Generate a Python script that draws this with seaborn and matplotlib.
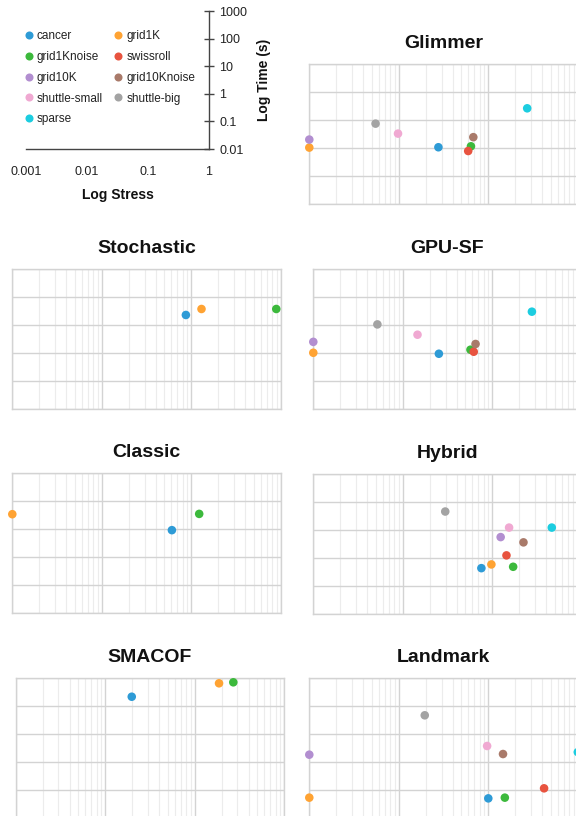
import numpy as np
import pandas as pd
import matplotlib
matplotlib.use("Agg")
import matplotlib.pyplot as plt
import seaborn as sns
from matplotlib.lines import Line2D
from matplotlib.ticker import LogLocator, NullLocator

nan = np.nan

datasets = ["cancer", "grid1K", "grid1Knoise", "swissroll", "grid10K",
            "grid10Knoise", "shuttle-small", "shuttle-big", "sparse"]
colors = ["#2e9bd6", "#ffa333", "#3cb93c", "#e8533f", "#b28ed0",
          "#a97a6a", "#f0a9d2", "#a3a3a3", "#1ccde0"]

methods = ["Glimmer", "Stochastic", "GPU-SF", "Classic", "Hybrid", "SMACOF", "Landmark"]

glimmer_stress = [0.0277, 0.001, 0.064, 0.0596, 0.001, 0.068, 0.0098, 0.0055, 0.272]
glimmer_time = [1.09, 1.06, 1.18, 0.80, 2.05, 2.5, 3.35, 7.6, 26.8]

stochastic_stress = [0.087, 0.130, 0.89, nan, nan, nan, nan, nan, nan]
stochastic_time = [22.8, 37.3, 37.3, nan, nan, nan, nan, nan, nan]

gpusf_stress = [0.0253, 0.001, 0.057, 0.062, 0.001, 0.065, 0.0146, 0.0052, 0.277]
gpusf_time = [0.94, 1.02, 1.31, 1.11, 2.5, 2.1, 4.5, 10.5, 29.9]

classic_stress = [0.0607, 0.001, 0.1225, nan, nan, nan, nan, nan, nan]
classic_time = [9.4, 34.9, 35.8, nan, nan, nan, nan, nan, nan]

hybrid_stress = [0.0755, 0.0977, 0.171, 0.144, 0.124, 0.223, 0.154, 0.0298, 0.462]
hybrid_time = [0.42, 0.57, 0.47, 1.2, 5.4, 3.5, 11.8, 44.2, 11.8]

smacof_stress = [0.0198, 0.187, 0.27, nan, nan, nan, nan, nan, nan]
smacof_time = [209, 631, 685, nan, nan, nan, nan, nan, nan]

landmark_stress = [0.1, 0.001, 0.153, 0.42, 0.001, 0.146, 0.097, 0.0195, 1.0]
landmark_time = [0.049, 0.052, 0.052, 0.112, 1.78, 1.88, 3.64, 45.4, 2.2]

x_ticks = [0.001, 0.01, 0.1, 1]
x_tick_labels = ["0.001", "0.01", "0.1", "1"]
y_ticks = [0.01, 0.1, 1, 10, 100, 1000]
y_tick_labels = ["0.01", "0.1", "1", "10", "100", "1000"]

sns.set_theme(style="white")
plt.rcParams['font.family'] = ['Liberation Sans', 'DejaVu Sans']

W, H = 576, 816
fig = plt.figure(figsize=(W / 100, H / 100), dpi=100)


def px_axes(left, top, width, height):
    return fig.add_axes([left / W, 1 - (top + height) / H, width / W, height / H])


palette = dict(zip(datasets, colors))
series = [
    (glimmer_stress, glimmer_time),
    (stochastic_stress, stochastic_time),
    (gpusf_stress, gpusf_time),
    (classic_stress, classic_time),
    (hybrid_stress, hybrid_time),
    (smacof_stress, smacof_time),
    (landmark_stress, landmark_time),
]
layout = [(309.3, 64.3), (12.3, 269), (313.3, 269), (12.3, 473.4),
          (313.3, 473.6), (15.7, 677.7), (309.3, 677.7)]
PW, PH = 268.5, 140

for name, (st, tm), (left, top) in zip(methods, series, layout):
    ax = px_axes(left, top, PW, PH)
    df = pd.DataFrame({"dataset": datasets, "stress": st, "time": tm}).dropna()
    sns.scatterplot(data=df, x="stress", y="time", hue="dataset", palette=palette,
                    hue_order=datasets, s=38, linewidth=0, legend=False, ax=ax,
                    clip_on=False, zorder=3)
    ax.set_xscale('log')
    ax.set_yscale('log')
    ax.set_xlim(1e-3, 1)
    ax.set_ylim(1e-2, 1e3)
    ax.xaxis.set_major_locator(LogLocator(base=10, numticks=10))
    ax.xaxis.set_minor_locator(LogLocator(base=10, subs=np.arange(2, 10), numticks=10))
    ax.yaxis.set_major_locator(LogLocator(base=10, numticks=10))
    ax.yaxis.set_minor_locator(NullLocator())
    ax.set_axisbelow(True)
    ax.grid(which='major', color='#d3d3d3', lw=1.0)
    ax.grid(which='minor', axis='x', color='#ececec', lw=0.8)
    ax.tick_params(which='both', length=0, labelbottom=False, labelleft=False)
    ax.set_xlabel('')
    ax.set_ylabel('')
    for sp in ax.spines.values():
        sp.set_visible(True)
        sp.set_color('#d3d3d3')
        sp.set_linewidth(1.0)
    ax.set_title(name, fontsize=14, fontweight='bold', pad=11.5, color='#111111')

# key axes
kax = px_axes(26, 11, 183, 138)
kax.set_xscale('log')
kax.set_yscale('log')
kax.set_xlim(1e-3, 1)
kax.set_ylim(1e-2, 1e3)
kax.set_facecolor('none')
for s in ['top', 'left']:
    kax.spines[s].set_visible(False)
for s in ['bottom', 'right']:
    kax.spines[s].set_color('#444444')
    kax.spines[s].set_linewidth(1.0)
kax.yaxis.tick_right()
kax.yaxis.set_label_position('right')
kax.set_xticks(x_ticks)
kax.set_xticklabels(x_tick_labels)
kax.set_yticks(y_ticks)
kax.set_yticklabels(y_tick_labels)
kax.minorticks_off()
kax.tick_params(direction='inout', length=6.5, width=1.0, color='#444444',
                labelsize=9, labelcolor='#222222')
kax.tick_params(axis='x', pad=9)
kax.tick_params(axis='y', pad=4)
kax.set_xlabel('Log Stress', fontsize=10, fontweight='bold', labelpad=7, color='#111111')
kax.set_ylabel('Log Time (s)', fontsize=10, fontweight='bold', labelpad=7,
               rotation=90, color='#111111')

order = list(range(0, len(datasets), 2)) + list(range(1, len(datasets), 2))
handles = [Line2D([], [], marker='o', ls='', color=colors[i], markersize=5.8,
                  markeredgewidth=0) for i in order]
labels = [datasets[i] for i in order]
kax.legend(handles, labels, ncol=2, frameon=False, fontsize=8.5, handlelength=0.8,
           handletextpad=0.25, columnspacing=0.9, labelspacing=0.75, borderpad=0,
           borderaxespad=0, loc='upper left', bbox_to_anchor=(24.6 / W, 1 - 30 / H),
           bbox_transform=fig.transFigure, labelcolor='#222222')

fig.savefig("out.png", dpi=100)
